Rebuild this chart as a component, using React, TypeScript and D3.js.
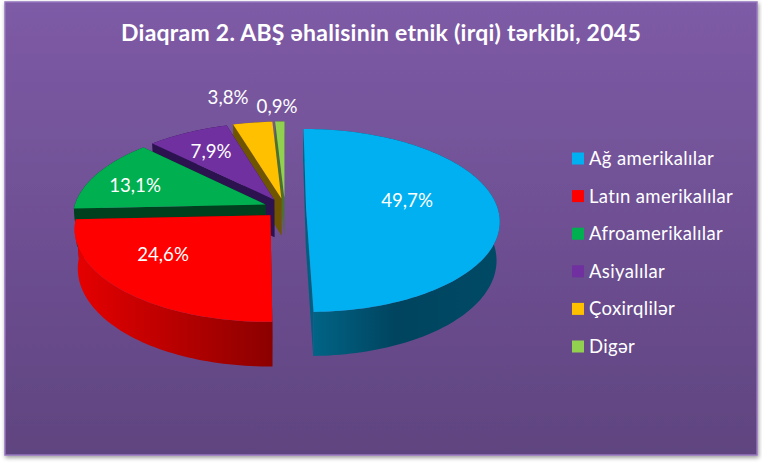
import React from 'react';
import * as d3 from 'd3';

const categories = ['Ağ amerikalılar', 'Latın amerikalılar', 'Afroamerikalılar', 'Asiyalılar', 'Çoxirqlilər', 'Digər'];
const shares = [49.7, 24.6, 13.1, 7.9, 3.8, 0.9];
const shareLabels = ['49,7%', '24,6%', '13,1%', '7,9%', '3,8%', '0,9%'];
const topColors = ['#00b0f0', '#ff0000', '#00b050', '#7030a0', '#ffc000', '#92d050'];
const wallColors = ['#00455f', '#a80000', '#00401f', '#2c1350', '#705500', '#4c7030'];
const sideColors = ['#005f80', '#8c0000', '#00401f', '#2c1350', '#705500', '#4c7030'];
// where the value labels sit on the picture
const labelAt = [[407, 200], [163, 254], [135, 185], [211, 151], [228, 97], [277, 106]];
// painter's order, back to front
const drawOrder = [5, 4, 3, 2, 1, 0];

const W = 762;
const H = 463;
const FONT = 'Lato, "Open Sans", sans-serif';

// tilted disc with a little perspective
const vx = 285;
const cy = 208;
const rx = 191.5;
const ry = 89.8;
const k = 0.137;
const depth = 38;
const explode = 0.11;
const bottomScale = 0.985;

type Pt = [number, number];

const project = (theta: number, r: number, off: Pt, low: boolean): Pt => {
    const u = off[0] + r * Math.sin(theta);
    const v = off[1] + r * Math.cos(theta);
    const p = 1 / (1 + k * v);
    const x = u * rx * p;
    const y = cy - ry * v * p;
    return low ? [vx + x * bottomScale, y + depth * p] : [vx + x, y];
};

const pieLayout = d3.pie<number>().sort(null).value(d => d)(shares);
const line = d3.line<Pt>().x(d => d[0]).y(d => d[1]);

const legendY = d3.scalePoint<string>().domain(categories).range([158.5, 346.5]);

const App: React.FC = () => {
    const slices = pieLayout.map((s, i) => {
        const mid = (s.startAngle + s.endAngle) / 2;
        const off: Pt = [explode * Math.sin(mid), explode * Math.cos(mid)];
        const steps = Math.max(6, Math.ceil((s.endAngle - s.startAngle) * 40));
        const angles = d3.range(steps + 1).map(t => s.startAngle + (s.endAngle - s.startAngle) * t / steps);
        const apexTop = project(0, 0, off, false);
        const apexLow = project(0, 0, off, true);
        const arcTop = angles.map(a => project(a, 1, off, false));
        const arcLow = angles.map(a => project(a, 1, off, true));
        return {
            i,
            top: line([apexTop, ...arcTop])! + 'Z',
            wall: line([...arcTop, ...arcLow.slice().reverse()])! + 'Z',
            sideA: line([apexTop, arcTop[0], arcLow[0], apexLow])! + 'Z',
            sideB: line([apexTop, arcTop[steps], arcLow[steps], apexLow])! + 'Z',
        };
    });

    return (
        <svg width={W} height={H} style={{ position: 'absolute', left: 0, top: 0, background: '#fff' }}>
            <defs>
                <linearGradient id="panelBg" x1="0" y1="0" x2="0" y2="1">
                    <stop offset="0" stopColor="#7e5ba6" />
                    <stop offset="1" stopColor="#5f4480" />
                </linearGradient>
                <linearGradient id="wall0" gradientUnits="userSpaceOnUse" x1="312" y1="0" x2="498" y2="0">
                    <stop offset="0" stopColor="#016486" />
                    <stop offset="0.45" stopColor="#00445f" />
                    <stop offset="1" stopColor="#004a66" />
                </linearGradient>
                <linearGradient id="wall1" gradientUnits="userSpaceOnUse" x1="75" y1="0" x2="271" y2="0">
                    <stop offset="0" stopColor="#e60000" />
                    <stop offset="1" stopColor="#8c0000" />
                </linearGradient>
                <filter id="panelShadow" x="-3%" y="-3%" width="106%" height="106%">
                    <feDropShadow dx="1" dy="2" stdDeviation="2" floodColor="#000" floodOpacity="0.4" />
                </filter>
            </defs>

            <rect x={5} y={2} width={752} height={453} fill="url(#panelBg)" stroke="#9474bd" strokeWidth={1.5} filter="url(#panelShadow)" />

            <text x={381} y={41} textAnchor="middle" fontFamily={FONT} fontWeight={700} fontSize={23} letterSpacing={0.25} fill="#fff">
                Diaqram 2. ABŞ əhalisinin etnik (irqi) tərkibi, 2045
            </text>

            {drawOrder.map(idx => {
                const s = slices[idx];
                const wallFill = idx < 2 ? `url(#wall${idx})` : wallColors[idx];
                return (
                    <g key={categories[idx]}>
                        <path d={s.sideA} fill={sideColors[idx]} />
                        <path d={s.sideB} fill={sideColors[idx]} />
                        <path d={s.wall} fill={wallFill} />
                        <path d={s.top} fill={topColors[idx]} />
                    </g>
                );
            })}

            {shareLabels.map((t, i) => (
                <text key={t} x={labelAt[i][0]} y={labelAt[i][1]} dy="0.35em" textAnchor="middle" fontFamily={FONT} fontSize={18.7} fill="#fff">
                    {t}
                </text>
            ))}

            {categories.map((c, i) => (
                <g key={c} transform={`translate(572,${legendY(c)})`}>
                    <rect x={0} y={-6} width={12} height={12} fill={topColors[i]} />
                    <text x={17} dy="0.35em" fontFamily={FONT} fontSize={18.5} letterSpacing={0.35} fill="#fff">{c}</text>
                </g>
            ))}
        </svg>
    );
};

export default App;
